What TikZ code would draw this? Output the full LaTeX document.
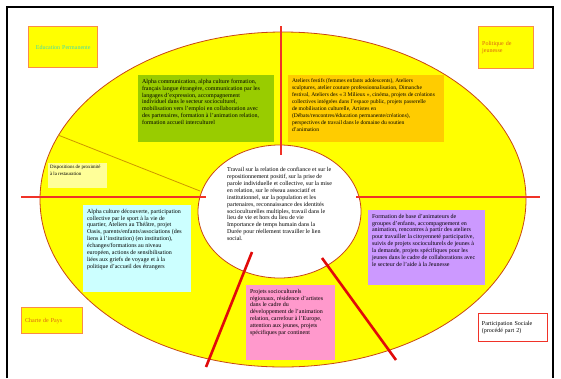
\documentclass[tikz,border=0pt]{standalone}
\usepackage{fontspec}
\setmainfont{Liberation Serif}
\usetikzlibrary{positioning}
\usetikzlibrary{shapes.geometric}

\definecolor{ovalyellow}{RGB}{255,255,0}
\definecolor{ovalline}{RGB}{200,70,20}
\definecolor{tagorange}{RGB}{250,140,70}
\definecolor{splitred}{RGB}{240,50,40}
\definecolor{spokered}{RGB}{225,10,10}
\definecolor{diagline}{RGB}{205,150,0}
\definecolor{alphagreen}{RGB}{153,204,0}
\definecolor{atelierorange}{RGB}{255,204,0}
\definecolor{alphacyan}{RGB}{204,255,255}
\definecolor{formpurple}{RGB}{204,153,255}
\definecolor{projpink}{RGB}{255,153,204}
\definecolor{dispoyellow}{RGB}{255,255,153}
\definecolor{educgreen}{RGB}{70,220,170}
\definecolor{tagtext}{RGB}{220,100,20}

\begin{document}
\begin{tikzpicture}[x=1pt,y=-1pt,
	every node/.style={font=\fontsize{6}{6.9}\selectfont},
	panel/.style={anchor=north west, inner sep=4pt, outer sep=0pt},
	tag/.style={draw=tagorange, line width=1.4pt, fill=ovalyellow, inner sep=3pt, align=left, anchor=north west},
	split/.style={draw=splitred, line width=1.1pt},
	spoke/.style={draw=spokered, line width=2.6pt}]

		\useasboundingbox (0,0) rectangle (561,378);

		% frame
		\draw [line width=1.5pt] (7,378) -- (7,7) -- (553,7) -- (553,378);

		% big oval
		\node (oval) [ellipse, draw=ovalline, fill=ovalyellow, line width=0.8pt, minimum width=486, minimum height=335] at (283,199.5) {};

		% corner tags
		\node (educ) [tag, minimum width=69, minimum height=41, text width=62, align=center, text=educgreen] at (28,26) {Education Permanente};
		\node (polj) [tag, minimum width=55, minimum height=42, text width=48, text=tagtext] at (478,26) {Politique de\\jeunesse};
		\node (charte) [tag, minimum width=61, minimum height=26, text width=54, text=tagtext] at (21,307) {Charte de Pays\\[6pt]};
		\node (partic) [tag, draw=splitred, line width=0.9pt, fill=white, minimum width=69, minimum height=28, text width=62] at (478,313) {Participation Sociale\\(procédé part 2)};

		% quarter panels
		\node (alpha) [panel, fill=alphagreen] at (138,75) {\parbox[t][59pt][t]{128pt}{\raggedright
			Alpha communication, alpha culture formation,\\
			français langue étrangère, communication par les\\
			langages d'expression, accompagnement\\
			individuel dans le secteur socioculturel,\\
			mobilisation vers l'emploi en collaboration avec\\
			des partenaires, formation à l'animation relation,\\
			formation accueil interculturel}};
		\node (ateliers) [panel, fill=atelierorange, right = 14pt of alpha, anchor=west] {\parbox[t][59pt][t]{148pt}{\raggedright\fontsize{5.6}{6.9}\selectfont
			Ateliers festifs (femmes enfants adolescents), Ateliers\\
			sculptures, atelier couture professionnalisation, Dimanche\\
			festival, Ateliers des « 3 Milieux », cinéma, projets de créations\\
			collectives intégrées dans l'espace public, projets passerelle\\
			de mobilisation culturelle, Artistes en\\
			(Débats/rencontres/éducation permanente/créations),\\
			perspectives de travail dans le domaine du soutien\\
			d'animation}};
		\node (dispo) [panel, inner sep=2pt, fill=dispoyellow] at (48,163) {\parbox[t][21pt][t]{55pt}{\raggedright\fontsize{4.9}{6.9}\selectfont
			\mbox{Dispositions de proximité}\\
			à la restauration}};
		\node (alphaculture) [panel, fill=alphacyan] at (83,205) {\parbox[t][79pt][t]{100pt}{\raggedright
			Alpha culture découverte, participation\\
			collective par le sport à la vie de\\
			quartier, Ateliers au Théâtre, projet\\
			Oasis, parents/enfants/associations (des\\
			liens à l'institution) (en institution),\\
			échanges/formations au niveau\\
			européen, actions de sensibilisation\\
			liées aux griefs de voyage et à la\\
			politique d'accueil des étrangers}};
		\node (formation) [panel, fill=formpurple] at (368,210) {\parbox[t][67pt][t]{109pt}{\raggedright
			Formation de base d'animateurs de\\
			groupes d'enfants, accompagnement en\\
			animation, rencontres à partir des ateliers\\
			pour travailler la citoyenneté participative,\\
			suivis de projets socioculturels de jeunes à\\
			la demande, projets spécifiques pour les\\
			jeunes dans le cadre de collaborations avec\\
			le secteur de l'aide à la Jeunesse}};
		\node (projets) [panel, fill=projpink] at (246,285) {\parbox[t][67pt][t]{81pt}{\raggedright
			Projets socioculturels\\
			régionaux, résidence d'artistes\\
			dans le cadre du\\
			développement de l'animation\\
			relation, carrefour à l'Europe,\\
			attention aux jeunes, projets\\
			spécifiques par continent}};

		% centre
		\node (centre) [ellipse, draw=ovalline, fill=white, line width=0.8pt, minimum width=163, minimum height=133, inner sep=0pt, align=left] at (279.5,211.5) {%
			Travail sur la relation de confiance et sur le\\
			repositionnement positif, sur la prise de\\
			parole individuelle et collective, sur la mise\\
			en relation, sur le réseau associatif et\\
			institutionnel, sur la population et les\\
			partenaires, reconnaissance des identités\\
			socioculturelles multiples, travail dans le\\
			lieu de vie et hors du lieu de vie\\
			Importance de temps humain dans la\\
			Durée pour réellement travailler le lien\\
			social.\\[8pt]};

		% dividers
		\coordinate (vtop) at (281,26);
		\coordinate (vend) at (281,155);
		\coordinate (hleft) at (21,197);
		\coordinate (hlin) at (206,197);
		\coordinate (hrin) at (356,197);
		\coordinate (hright) at (540,197);
		\coordinate (dtop) at (58,135);
		\coordinate (dend) at (200,191);
		\draw [split] (vtop) -- (vend);
		\draw [split] (hleft) -- (hlin);
		\draw [split] (hrin) -- (hright);
		\draw [draw=diagline, line width=0.8pt] (dtop) -- (dend);

		% spokes
		\coordinate (s1in) at (252,252);
		\coordinate (s1out) at (206,367);
		\coordinate (s2in) at (322,258);
		\coordinate (s2out) at (396,360);
		\draw [spoke] (s1in) -- (s1out);
		\draw [spoke] (s2in) -- (s2out);

	\end{tikzpicture}
\end{document}
